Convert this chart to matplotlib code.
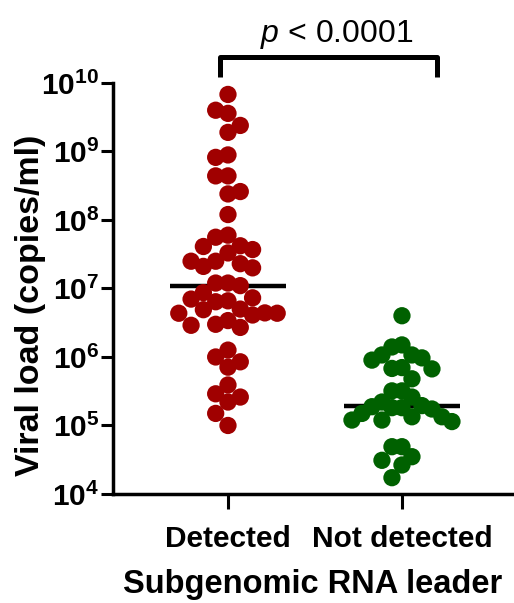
import numpy as np
import matplotlib
matplotlib.use("Agg")
import matplotlib.pyplot as plt
from matplotlib.ticker import FixedLocator, NullLocator

# viral load (copies/ml)
detected = [6.8e9, 4.0e9, 3.6e9, 2.4e9, 1.9e9, 8.9e8, 8.2e8, 4.4e8, 4.4e8, 2.6e8,
            2.4e8, 1.2e8, 6.0e7, 5.6e7, 4.2e7, 4.1e7, 3.7e7, 3.3e7, 2.5e7, 2.5e7,
            2.3e7, 2.1e7, 2.0e7, 1.2e7, 1.2e7, 1.1e7, 8.7e6, 7.3e6, 7.0e6, 6.6e6,
            6.4e6, 5.0e6, 4.9e6, 4.4e6, 4.35e6, 4.35e6, 4.1e6, 3.4e6, 3.0e6, 2.9e6,
            2.7e6, 1.26e6, 1.0e6, 8.5e5, 7.1e5, 3.9e5, 2.9e5, 2.6e5, 2.2e5, 1.5e5,
            1.0e5]
not_detected = [4.0e6, 1.5e6, 1.4e6, 1.07e6, 1.07e6, 9.7e5, 9.0e5, 7.0e5, 6.8e5, 6.7e5,
                4.8e5, 3.2e5, 3.2e5, 2.6e5, 2.2e5, 1.95e5, 1.88e5, 1.82e5, 1.82e5, 1.74e5,
                1.5e5, 1.34e5, 1.34e5, 1.2e5, 1.2e5, 1.14e5, 4.9e4, 4.9e4, 3.5e4, 3.1e4,
                2.65e4, 1.73e4]
groups = ["Detected", "Not detected"]
colors = ["#a00000", "#006100"]

plt.rcParams["font.family"] = "Liberation Sans"
plt.rcParams["mathtext.fontset"] = "custom"
plt.rcParams["mathtext.rm"] = "Liberation Sans"
plt.rcParams["mathtext.it"] = "Liberation Sans:italic"
plt.rcParams["mathtext.bf"] = "Liberation Sans:bold"

DPI = 100
fig = plt.figure(figsize=(5.14, 6.03), dpi=DPI)
ax = fig.add_axes([0.2198, 0.1808, 0.7802, 0.6816])
xmin, xmax = -0.661, 1.644
ax.set_xlim(xmin, xmax)
ax.set_yscale("log")
ax.set_ylim(1e4, 1e10)

px_per_unit = 5.14 * DPI * 0.7802 / (xmax - xmin)
px_per_decade = 6.03 * DPI * 0.6816 / 6


def swarm_offsets(vals, step_px, min_dy=16.5):
    # simple column beeswarm: same column points must not overlap vertically
    y = np.log10(vals) * px_per_decade
    slots = np.zeros(len(vals))
    placed = {}
    for i in np.argsort(-y):
        for s in [0, -1, 1, -2, 2, -3, 3, -4, 4, -5, 5, -6, 6]:
            if all(abs(y[i] - yy) >= min_dy for yy in placed.get(s, [])):
                placed.setdefault(s, []).append(y[i])
                slots[i] = s
                break
    return slots * step_px / px_per_unit


for i, (vals, col, step) in enumerate(zip([detected, not_detected], colors, [12.3, 10.0])):
    vals = np.array(vals)
    xs = i + swarm_offsets(vals, step)
    ax.scatter(xs, vals, s=155, color=col, edgecolors="none", zorder=3, clip_on=False)
    med = np.median(vals)
    ax.plot([i - 0.333, i + 0.333], [med, med], color="black", lw=3.2, zorder=2,
            solid_capstyle="butt")

# significance bracket
ax.plot([-0.046, -0.046, 1.2, 1.2], [10**10.088, 10**10.38, 10**10.38, 10**10.088],
        color="black", lw=3.6, clip_on=False, solid_capstyle="butt")
ax.text(0.625, 10**10.6, r"$\it{p}$ < 0.0001", ha="center", va="baseline", fontsize=23)

ax.spines["top"].set_visible(False)
ax.spines["right"].set_visible(False)
for sp in ["left", "bottom"]:
    ax.spines[sp].set_linewidth(2.5)

yt = [10.0**k for k in range(4, 11)]
ax.yaxis.set_major_locator(FixedLocator(yt))
ax.yaxis.set_minor_locator(NullLocator())
ax.set_yticklabels([r"$\mathbf{10^{%d}}$" % k for k in range(4, 11)], fontsize=21.5)
ax.set_xticks([0, 1])
ax.set_xticklabels(groups, fontsize=21.5, fontweight="bold")
ax.tick_params(axis="y", length=9, width=2.2, pad=1)
ax.tick_params(axis="x", length=11, width=2.2, pad=11)

ax.set_ylabel("Viral load (copies/ml)", fontsize=24.5, fontweight="bold")
ax.yaxis.set_label_coords(-0.167, 0.46)
ax.set_xlabel("Subgenomic RNA leader", fontsize=23.5, fontweight="bold", va="baseline")
ax.xaxis.set_label_coords(0.4975, -0.241)

fig.savefig("out.png", dpi=DPI)
